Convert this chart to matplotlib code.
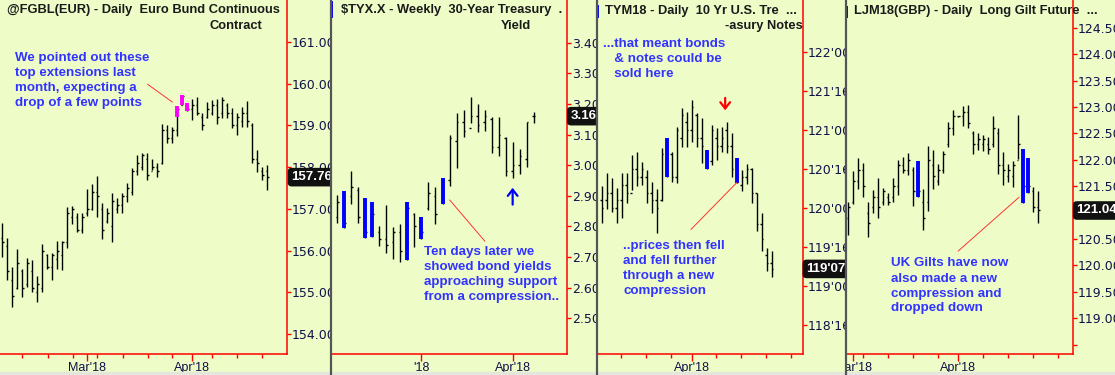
import matplotlib

matplotlib.use("Agg")
import matplotlib.pyplot as plt
from matplotlib.patches import Rectangle
from matplotlib.transforms import blended_transform_factory

W, H = 1115, 375
BG = "#eefdc8"
AXIS_RED = "#ff0000"
NAVY = "#10104a"
NOTE_BLUE = "#3333ff"

# ---- Euro Bund, daily (high, low, open, close) ----
bund_high = [156.66, 156.30, 155.60, 156.04, 155.56, 155.82, 155.77, 155.39, 156.16, 155.92,
             155.94, 156.23, 156.23, 157.04, 157.07, 156.90, 156.90, 157.47, 157.59, 157.79,
             157.14, 157.02, 157.38, 157.26, 157.38, 157.62, 157.98, 158.29, 158.34, 158.34,
             158.19, 158.10, 159.03, 159.01, 158.96, 159.46, 159.73, 159.54, 159.63, 159.68,
             159.30, 159.56, 159.61, 159.63, 159.68, 159.54, 159.42, 159.30, 159.44, 159.58,
             159.06, 158.41, 158.00, 158.05]
bund_low = [155.84, 155.29, 154.65, 155.08, 154.89, 155.12, 155.00, 154.77, 155.00, 155.56,
            155.29, 155.56, 155.53, 156.06, 156.64, 156.44, 156.42, 156.83, 156.97, 156.80,
            156.28, 156.66, 156.20, 156.90, 156.90, 157.16, 157.33, 157.81, 157.93, 157.69,
            157.93, 157.76, 158.07, 158.58, 158.58, 158.75, 159.49, 159.35, 159.13, 159.25,
            158.89, 159.18, 159.25, 159.03, 159.18, 159.18, 158.94, 158.77, 158.96, 158.96,
            158.10, 157.88, 157.69, 157.45]
bund_open = [156.3, 156.1, 155.3, 155.1, 155.5, 155.2, 155.5, 155.0, 155.1, 155.9,
             155.6, 155.8, 155.9, 156.2, 156.8, 156.8, 156.5, 156.9, 157.0, 157.4,
             157.0, 156.7, 156.6, 157.0, 157.1, 157.3, 157.4, 157.9, 158.0, 158.2,
             157.9, 158.0, 158.1, 158.9, 158.7, 158.9, 159.5, 159.5, 159.4, 159.5,
             159.2, 159.2, 159.3, 159.5, 159.3, 159.5, 159.3, 159.0, 159.1, 159.3,
             159.0, 158.2, 157.9, 157.9]
bund_close = [156.2, 155.5, 154.9, 155.7, 155.1, 155.7, 155.1, 155.2, 156.0, 155.6,
              155.9, 156.0, 156.2, 156.9, 157.0, 156.5, 156.8, 157.0, 157.4, 157.3,
              156.5, 156.9, 157.2, 157.1, 157.3, 157.5, 157.9, 158.1, 158.3, 157.8,
              158.0, 157.9, 158.9, 158.7, 158.9, 159.4, 159.7, 159.4, 159.5, 159.3,
              159.0, 159.4, 159.5, 159.2, 159.6, 159.3, 159.0, 159.2, 159.3, 159.1,
              158.2, 158.1, 157.8, 157.76]
# pink "top extension" segments: bar index, top, bottom
bund_mark_idx = [35, 36, 37]
bund_mark_top = [159.46, 159.73, 159.54]
bund_mark_bot = [159.20, 159.49, 159.35]

# ---- 30-year Treasury yield, weekly ----
tyx_high = [2.903, 2.916, 2.981, 2.929, 2.894, 2.881, 2.802, 2.870, 2.799, 2.808,
            2.881, 2.843, 2.832, 2.946, 2.930, 2.959, 3.099, 3.169, 3.180, 3.222,
            3.200, 3.180, 3.158, 3.158, 3.093, 3.075, 3.052, 3.142, 3.173]
tyx_low = [2.810, 2.796, 2.873, 2.810, 2.763, 2.765, 2.737, 2.714, 2.694, 2.685,
           2.690, 2.734, 2.758, 2.854, 2.807, 2.872, 2.933, 2.990, 3.093, 3.137,
           3.109, 3.112, 3.041, 3.030, 2.965, 2.957, 2.971, 2.995, 3.137]
tyx_open = [2.83, 2.88, 2.90, 2.92, 2.85, 2.79, 2.78, 2.76, 2.75, 2.78,
            2.71, 2.84, 2.80, 2.86, 2.90, 2.88, 2.95, 3.08, 3.14, 3.12,
            3.16, 3.14, 3.15, 3.06, 3.09, 2.98, 3.00, 3.02, 3.16]
tyx_close = [2.88, 2.81, 2.93, 2.83, 2.78, 2.84, 2.76, 2.74, 2.78, 2.72,
             2.86, 2.80, 2.78, 2.91, 2.84, 2.95, 3.09, 3.14, 3.11, 3.16,
             3.13, 3.16, 3.06, 3.10, 2.98, 3.00, 3.03, 3.14, 3.16]
tyx_blue = [1, 4, 5, 10, 12, 15]

# ---- 10-year note future, daily ----
tym_high = [120.283, 120.454, 120.386, 120.258, 120.450, 120.450, 120.681, 120.720, 120.591, 120.489,
            120.335, 120.245, 120.771, 120.900, 120.720, 121.041, 121.285, 121.233, 121.387, 121.220,
            121.156, 120.745, 121.066, 121.028, 121.041, 121.105, 120.964, 120.643, 120.489, 120.566,
            120.514, 120.193, 119.937, 119.487, 119.449]
tym_low = [119.808, 119.984, 119.950, 119.808, 119.873, 120.065, 120.232, 120.283, 120.296, 120.065,
           119.937, 119.680, 120.091, 120.399, 120.335, 120.322, 120.784, 120.784, 120.848, 120.784,
           120.579, 120.502, 120.553, 120.617, 120.720, 120.707, 120.399, 120.322, 120.219, 120.309,
           120.065, 119.706, 119.449, 119.192, 119.115]
tym_open = [120.1, 120.1, 120.2, 120.0, 120.1, 120.3, 120.2, 120.5, 120.4, 120.4,
            120.2, 120.1, 120.1, 120.5, 120.7, 120.4, 120.9, 121.1, 121.0, 121.2,
            120.9, 120.7, 120.6, 120.9, 120.8, 121.0, 120.8, 120.6, 120.3, 120.4,
            120.5, 120.2, 119.8, 119.4, 119.3]
tym_close = [120.0, 120.2, 120.0, 120.1, 120.3, 120.2, 120.5, 120.4, 120.5, 120.2,
             120.1, 120.0, 120.7, 120.8, 120.4, 121.0, 121.2, 121.0, 121.3, 120.9,
             120.8, 120.6, 121.0, 120.8, 120.9, 120.8, 120.5, 120.4, 120.4, 120.5,
             120.2, 119.8, 119.6, 119.3, 119.22]
tym_blue = [13, 21, 27]

# ---- Long gilt future, daily ----
gilt_high = [121.207, 121.788, 122.028, 121.934, 121.207, 121.428, 121.650, 121.466, 121.371, 121.650,
             121.996, 122.058, 122.134, 121.869, 121.977, 121.442, 122.267, 122.185, 121.915, 122.172,
             122.721, 122.942, 122.829, 123.018, 123.037, 122.545, 122.501, 122.469, 122.437, 122.829,
             122.596, 122.153, 121.920, 121.977, 122.848, 122.204, 122.028, 121.491, 121.415]
gilt_low = [120.577, 121.163, 121.442, 121.301, 120.533, 120.987, 120.893, 121.144, 121.144, 121.207,
            121.334, 121.744, 121.712, 121.125, 121.301, 120.671, 121.031, 121.442, 121.523, 121.744,
            122.248, 122.469, 122.810, 122.639, 122.596, 122.104, 122.185, 122.172, 122.110, 122.248,
            121.731, 121.523, 121.585, 121.491, 122.009, 121.177, 121.366, 121.018, 120.798]
gilt_open = [120.9, 121.2, 121.6, 121.8, 121.0, 121.1, 121.3, 121.2, 121.3, 121.3,
             121.5, 121.9, 121.8, 121.8, 121.9, 121.2, 121.2, 121.9, 121.6, 121.8,
             122.3, 122.6, 122.83, 122.82, 122.9, 122.5, 122.3, 122.3, 122.3, 122.3,
             122.5, 121.9, 121.7, 121.7, 122.0, 122.1, 121.9, 121.4, 121.1]
gilt_close = [121.1, 121.6, 121.8, 121.5, 120.8, 121.3, 121.1, 121.4, 121.2, 121.5,
              121.9, 121.8, 122.0, 121.4, 121.4, 120.9, 122.0, 121.7, 121.8, 122.1,
              122.6, 122.83, 122.82, 122.9, 122.7, 122.3, 122.4, 122.4, 122.2, 122.6,
              121.9, 121.8, 121.8, 121.9, 122.3, 121.5, 121.5, 121.1, 121.04]
gilt_blue = [14, 35, 36]

bund_note = ["We pointed out these", "top extensions last", "month, expecting a", "drop of a few points"]
tyx_note = ["Ten days later we", "showed bond yields", "approaching support", "from a compression.."]
tym_note_top = ["...that meant bonds", "   & notes could be", "   sold here"]
tym_note_low = ["..prices then fell", "and fell further", "through a new", "compression"]
gilt_note = ["UK Gilts have now", "also made a new", "compression and", "dropped down"]


def fx(px):
    return px / W


def fy(py):
    return 1 - py / H


def panel_clip(fig, left, right):
    return Rectangle((fx(left), 0), fx(right - left), 1, transform=fig.transFigure)


def make_panel(fig, left, right, axis_px, bar0_px, step_px, y_top, y_bot,
               yticks, ylabels, xmajor, xmajor_labels, xminor):
    ax = fig.add_axes([fx(left), fy(354), fx(axis_px - left), 354 / H])
    ax.set_facecolor(BG)
    ax.set_xlim((left - bar0_px) / step_px, (axis_px - bar0_px) / step_px)
    ax.set_ylim(y_bot, y_top)
    for side in ("top", "left"):
        ax.spines[side].set_visible(False)
    for side in ("right", "bottom"):
        ax.spines[side].set_color(AXIS_RED)
        ax.spines[side].set_linewidth(1.1)
    ax.yaxis.tick_right()
    ax.set_yticks(yticks)
    ax.set_yticklabels(ylabels)
    ax.tick_params(axis="y", direction="out", length=3, width=1.0, color=AXIS_RED,
                   labelcolor=NAVY, labelsize=9, pad=0.6)
    ax.set_xticks(xmajor)
    ax.set_xticklabels([])
    ax.set_xticks(xminor, minor=True)
    ax.tick_params(axis="x", which="major", direction="out", length=5, width=1.0,
                   color=AXIS_RED)
    ax.tick_params(axis="x", which="minor", direction="out", length=3, width=1.0,
                   color=AXIS_RED)
    clip = panel_clip(fig, left, right)
    for tick in ax.yaxis.get_major_ticks():
        tick.label2.set_clip_path(clip)
    xtr = blended_transform_factory(ax.transData, fig.transFigure)
    for pos, lab in zip(xmajor, xmajor_labels):
        t = ax.text(pos, fy(368), lab, transform=xtr, ha="center", va="center",
                    color=NAVY, fontsize=9, family="Liberation Sans", clip_on=True)
        t.set_clip_path(clip)
    ax.tick_w = 1.8 / step_px
    ax.clip_rect = clip
    return ax


def draw_bars(ax, high, low, opn, close, color="black"):
    xs = list(range(len(high)))
    w = ax.tick_w
    ax.vlines(xs, low, high, color=color, lw=1.0)
    ax.hlines(opn, [x - w for x in xs], xs, color=color, lw=1.0)
    ax.hlines(close, xs, [x + w for x in xs], color=color, lw=1.0)


def draw_last(ax, value, text):
    tr = blended_transform_factory(ax.transAxes, ax.transData)
    t = ax.text(1.014, value, text, transform=tr, ha="left", va="center", color="white",
                fontsize=9.5, fontweight="bold", family="Liberation Sans", clip_on=True,
                zorder=5,
                bbox=dict(boxstyle="round,pad=0.25,rounding_size=0.3", fc="#111111", ec="none"))
    t.set_clip_path(ax.clip_rect)


def note(fig, x_px, y_px, lines, step=15):
    for k, line in enumerate(lines):
        fig.text(fx(x_px), fy(y_px + k * step), line, ha="left", va="center",
                 color=NOTE_BLUE, fontsize=9.65, fontweight="bold", family="Liberation Sans")


fig = plt.figure(figsize=(W / 100, H / 100), dpi=100)
fig.patch.set_facecolor(BG)

# panel 1: Euro Bund
ax1 = make_panel(fig, 0, 330, 287, 2.33, 5.0, 162.007, 153.52,
                 [161, 160, 159, 158, 157, 156, 155, 154],
                 ["161.00", "160.00", "159.00", "158.00", "157.00", "156.00", "155.00", "154.00"],
                 [16.93, 37.93], ["Mar'18", "Apr'18"],
                 [3.93, 9.13, 14.13, 18.93, 24.13, 29.13, 33.93, 41.93, 46.93, 51.93])
draw_bars(ax1, bund_high, bund_low, bund_open, bund_close)
ax1.vlines(bund_mark_idx, bund_mark_bot, bund_mark_top, color="#ff00ff", lw=2.8)
draw_last(ax1, bund_close[-1], "157.76")
ax1.plot([29.07, 34.0], [159.985, 159.561], color="#ff3333", lw=0.7)

# panel 2: 30-year yield
ax2 = make_panel(fig, 331, 596, 567, 337.3, 7.014, 3.5395, 2.383,
                 [3.4, 3.3, 3.2, 3.1, 3.0, 2.9, 2.8, 2.7, 2.6, 2.5],
                 ["3.40", "3.30", "3.20", "3.10", "3.00", "2.90", "2.80", "2.70", "2.60", "2.50"],
                 [12, 25], ["'18", "Apr'18"], [])
draw_bars(ax2, tyx_high, tyx_low, tyx_open, tyx_close)
ax2.vlines(tyx_blue, [tyx_low[i] for i in tyx_blue], [tyx_high[i] for i in tyx_blue],
           color="#0000ff", lw=2.8)
draw_last(ax2, tyx_close[-1], "3.16")
ax2.plot([16.03, 21.02], [2.886, 2.752], color="#ff3333", lw=0.7)
ax2.annotate("", xy=(25, 2.935), xytext=(25, 2.862),
             arrowprops=dict(arrowstyle="->,head_width=0.35,head_length=0.45", color="#0000ff", lw=1.6))

# panel 3: 10-year note
ax3 = make_panel(fig, 597, 845, 803, 601.67, 5.0, 122.671, 118.128,
                 [122.0, 121.5, 121.0, 120.5, 120.0, 119.5, 119.0, 118.5],
                 ["122'00.", "121'16.", "121'00.", "120'16.", "120'00.", "119'16.", "119'00.", "118'16."],
                 [18.0], ["Apr'18"],
                 [3.87, 8.87, 13.87, 22.87, 27.87, 32.87, 37.87])
draw_bars(ax3, tym_high, tym_low, tym_open, tym_close)
ax3.vlines(tym_blue, [tym_low[i] for i in tym_blue], [tym_high[i] for i in tym_blue],
           color="#0000ff", lw=2.8)
draw_last(ax3, tym_close[-1], "119'07.")
ax3.plot([17.87, 27.0], [119.727, 120.326], color="#ff3333", lw=0.7)
ax3.annotate("", xy=(24.7, 121.22), xytext=(24.7, 121.45),
             arrowprops=dict(arrowstyle="->,head_width=0.35,head_length=0.45", color="#ff0000", lw=1.6))

# panel 4: long gilt
ax4 = make_panel(fig, 846, 1115, 1073, 848.33, 5.0, 125.024, 118.324,
                 [124.5, 124.0, 123.5, 123.0, 122.5, 122.0, 121.5, 121.0, 120.5, 120.0, 119.5, 119.0, 118.5],
                 ["124.50", "124.00", "123.50", "123.00", "122.50", "122.00", "121.50", "121.00",
                  "120.50", "120.00", "119.50", "119.00", ""],
                 [1.0, 22.0], ["Mar'18", "Apr'18"],
                 [3.0, 8.0, 13.0, 18.0, 27.0, 32.0, 37.0, 42.0])
draw_bars(ax4, gilt_high, gilt_low, gilt_open, gilt_close)
ax4.vlines(gilt_blue, [gilt_low[i] for i in gilt_blue], [gilt_high[i] for i in gilt_blue],
           color="#0000ff", lw=2.8)
draw_last(ax4, gilt_close[-1], "121.04")
ax4.plot([21.99, 34.13], [120.274, 121.29], color="#ff3333", lw=0.7)

# annotations
note(fig, 14.7, 58, bund_note)
note(fig, 424, 252, tyx_note)
note(fig, 603.3, 44, tym_note_top)
note(fig, 623.3, 246, tym_note_low)
note(fig, 890.7, 263.5, gilt_note)

# titles
title_kw = dict(color="#1a1a1a", fontsize=9.3, fontweight="bold", family="Liberation Sans", va="center")
fig.text(fx(6.7), fy(10), "@FGBL(EUR) - Daily  Euro Bund Continuous", **title_kw)
fig.text(fx(210), fy(26), "Contract", **title_kw)
fig.text(fx(340.7), fy(10), "$TYX.X - Weekly  30-Year Treasury  .", **title_kw)
fig.text(fx(500.7), fy(26), "Yield", **title_kw)
fig.text(fx(605.3), fy(11), "TYM18 - Daily  10 Yr U.S. Tre  ...", **title_kw)
fig.text(fx(802.5), fy(26), "-asury Notes", ha="right", **title_kw)
fig.text(fx(854.3), fy(11), "LJM18(GBP) - Daily  Long Gilt Future  ...", **title_kw)
for px, y0, y1 in [(332, 2, 17), (598, 6, 17), (847, 7, 17)]:
    fig.add_artist(plt.Line2D([fx(px), fx(px)], [fy(y0), fy(y1)], color="#0000ff", lw=1.4,
                              transform=fig.transFigure))

# panel separators and bottom strip
for px in (330.5, 596.5, 845.5):
    fig.add_artist(plt.Line2D([fx(px), fx(px)], [0, 1], color="#555555", lw=1.6,
                              transform=fig.transFigure))
fig.add_artist(Rectangle((0, 0), 1, 3 / H, color="#e4e8dc", transform=fig.transFigure))

fig.savefig("out.png", dpi=100, facecolor=BG)
